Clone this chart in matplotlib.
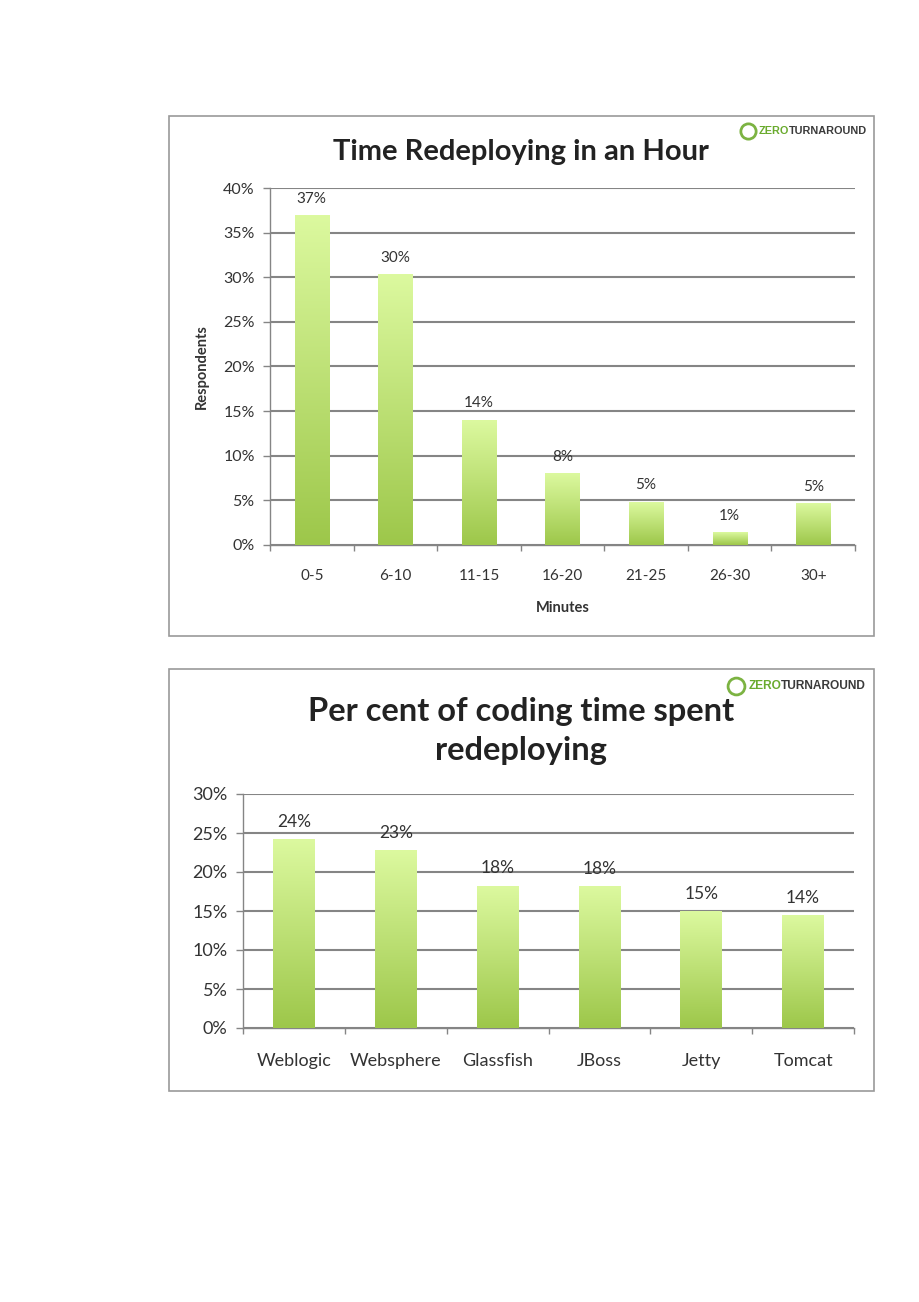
import numpy as np
import matplotlib
matplotlib.use("Agg")
import matplotlib.pyplot as plt
from matplotlib.colors import LinearSegmentedColormap
from matplotlib.patches import Rectangle

plt.rcParams['font.family'] = ['Lato', 'DejaVu Sans']

# chart 1 data
minutes = ["0-5", "6-10", "11-15", "16-20", "21-25", "26-30", "30+"]
respondents = [36.9, 30.3, 14.0, 8.0, 4.8, 1.4, 4.6]

# chart 2 data
servers = ["Weblogic", "Websphere", "Glassfish", "JBoss", "Jetty", "Tomcat"]
redeploy_share = [24.2, 22.7, 18.2, 18.1, 14.9, 14.4]

GRID = "#858585"
TEXT = "#333333"
green = LinearSegmentedColormap.from_list("g", ["#9dc74a", "#dcf99f"])
grad = np.linspace(0, 1, 256).reshape(-1, 1)


def gradient_bars(ax, values, width):
    for i, v in enumerate(values):
        ax.imshow(grad, extent=(i - width / 2, i + width / 2, 0, v), origin="lower",
                  cmap=green, aspect="auto", zorder=3)


def style_axes(ax, cats, ymax, step, tick_fs, cat_fs, xpad):
    ax.set_xlim(-0.5, len(cats) - 0.5)
    ax.set_ylim(0, ymax)
    ax.set_yticks(np.arange(0, ymax + 0.1, step))
    ax.set_yticklabels([f"{int(t)}%" for t in np.arange(0, ymax + 0.1, step)],
                       fontsize=tick_fs, color=TEXT)
    ax.set_xticks(range(len(cats)))
    ax.set_xticklabels(cats, fontsize=cat_fs, color=TEXT)
    ax.tick_params(axis="x", length=0, pad=xpad)
    ax.set_xticks(np.arange(-0.5, len(cats)), minor=True)
    ax.tick_params(axis="x", which="minor", length=4, color=GRID, width=1)
    ax.tick_params(axis="y", length=5, color=GRID, width=1, pad=6)
    ax.yaxis.grid(True, color=GRID, linewidth=1.5, zorder=0)
    ax.set_axisbelow(True)
    for s in ["top", "right"]:
        ax.spines[s].set_visible(False)
    for s in ["left", "bottom"]:
        ax.spines[s].set_color(GRID)
        ax.spines[s].set_linewidth(1)


def logo(fig, x, y, size=7.8):
    k = size / 7.8
    fig.lines.append(plt.Line2D([x], [y], transform=fig.transFigure, marker="o",
                                markersize=11 * k, markerfacecolor="none",
                                markeredgecolor="#7cb342", markeredgewidth=2))
    fig.text(x + 0.012 * k, y, "ZERO", color="#6aab2e", fontsize=size, fontweight="bold",
             family="Liberation Sans", va="center")
    fig.text(x + 0.0445 * k, y, "TURNAROUND", color="#3a3a3a", fontsize=size, fontweight="bold",
             family="Liberation Sans", va="center")


fig = plt.figure(figsize=(9.2, 13.02), dpi=100)
W, H = 920, 1302

# frames
for (x0, y0, x1, y1) in [(169, 116, 874, 636), (169, 669, 874, 1091)]:
    fig.patches.append(Rectangle((x0 / W, 1 - y1 / H), (x1 - x0) / W, (y1 - y0) / H,
                                 transform=fig.transFigure, facecolor="none",
                                 edgecolor="#9a9a9a", linewidth=1.2))

# chart 1
ax1 = fig.add_axes([270 / W, 1 - 545 / H, 585 / W, 357 / H])
gradient_bars(ax1, respondents, 0.41)
style_axes(ax1, minutes, 40, 5, 11.5, 11, 17)
for i, v in enumerate(respondents):
    ax1.annotate(f"{v:.0f}%", (i, v), xytext=(0, 7), textcoords="offset points",
                 ha="center", va="bottom", fontsize=11, color=TEXT)
ax1.set_ylabel("Respondents", fontsize=10.5, fontweight="bold", color=TEXT, labelpad=10)
ax1.set_xlabel("Minutes", fontsize=10.5, fontweight="bold", color=TEXT, labelpad=13)
fig.text(521 / W, 1 - 152 / H, "Time Redeploying in an Hour", ha="center", va="center",
         fontsize=21, fontweight="bold", color="#222222")
logo(fig, 748 / W, 1 - 131 / H)

# chart 2
ax2 = fig.add_axes([243 / W, 1 - 1028 / H, 611 / W, 234 / H])
gradient_bars(ax2, redeploy_share, 0.41)
style_axes(ax2, servers, 30, 5, 13, 13, 18)
for i, v in enumerate(redeploy_share):
    ax2.annotate(f"{v:.0f}%", (i, v), xytext=(0, 7), textcoords="offset points",
                 ha="center", va="bottom", fontsize=12.5, color=TEXT)
fig.text(521 / W, 1 - 731 / H, "Per cent of coding time spent\nredeploying", ha="center",
         va="center", fontsize=23.5, fontweight="bold", color="#222222", linespacing=1.45)
logo(fig, 736 / W, 1 - 686 / H, size=8.6)

fig.savefig("out.png", dpi=100, facecolor="white")
